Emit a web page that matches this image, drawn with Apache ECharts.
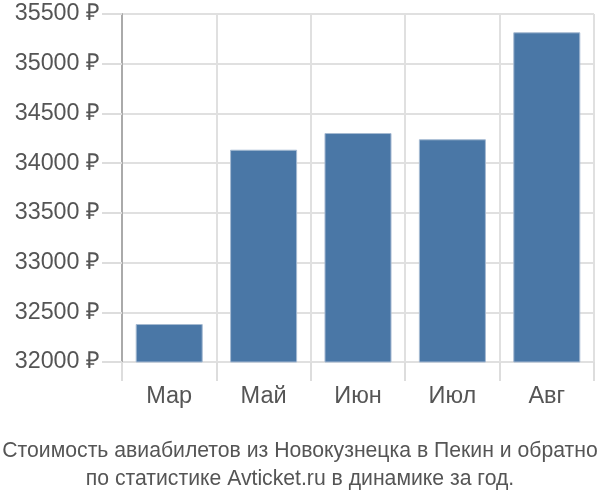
<!DOCTYPE html>
<html>
<head>
<meta charset="utf-8">
<script src="https://cdn.jsdelivr.net/npm/echarts@6/dist/echarts.min.js"></script>
<style>html,body{margin:0;padding:0;background:#fff}#c{width:600px;height:500px}</style>
</head>
<body>
<div id="c"></div>
<script>
const categories = ['Мар', 'Май', 'Июн', 'Июл', 'Авг'];
const prices = [32382, 34135, 34303, 34240, 35316];
const yMin = 32000, yMax = 35500, yStep = 500;
const titleLines = ['Стоимость авиабилетов из Новокузнецка в Пекин и обратно', 'по статистике Avticket.ru в динамике за год.'];

const chart = echarts.init(document.getElementById('c'), null, {renderer: 'canvas'});
const font = 'Liberation Sans, Arial, sans-serif';
chart.setOption({
  animation: false,
  title: {
    text: titleLines.join('\n'),
    left: 'center', top: 432,
    textStyle: {fontFamily: font, fontSize: 21.2, fontWeight: 'normal', color: '#555', lineHeight: 28}
  },
  grid: {left: 122, right: 6, top: 14, bottom: 138},
  xAxis: {
    type: 'category', data: categories,
    axisLine: {show: false},
    axisTick: {show: true, length: 19, lineStyle: {color: '#ddd', width: 2}},
    splitLine: {show: true, lineStyle: {color: '#e0e0e0', width: 2}},
    axisLabel: {fontFamily: font, fontSize: 23.5, color: '#555', margin: 23}
  },
  yAxis: {
    type: 'value', min: yMin, max: yMax, interval: yStep,
    axisLine: {show: true, lineStyle: {color: '#aaa', width: 2}},
    axisTick: {show: true, length: 20, lineStyle: {color: '#ddd', width: 2}},
    splitLine: {show: true, lineStyle: {color: '#e0e0e0', width: 2}},
    axisLabel: {fontFamily: font, fontSize: 23.3, color: '#555', margin: 22, formatter: v => v + ' ₽'}
  },
  series: [{
    type: 'bar', data: prices, barWidth: '71%',
    itemStyle: {color: '#4a77a6', borderColor: '#a6bad2', borderWidth: 1}
  }]
});
</script>
</body>
</html>
